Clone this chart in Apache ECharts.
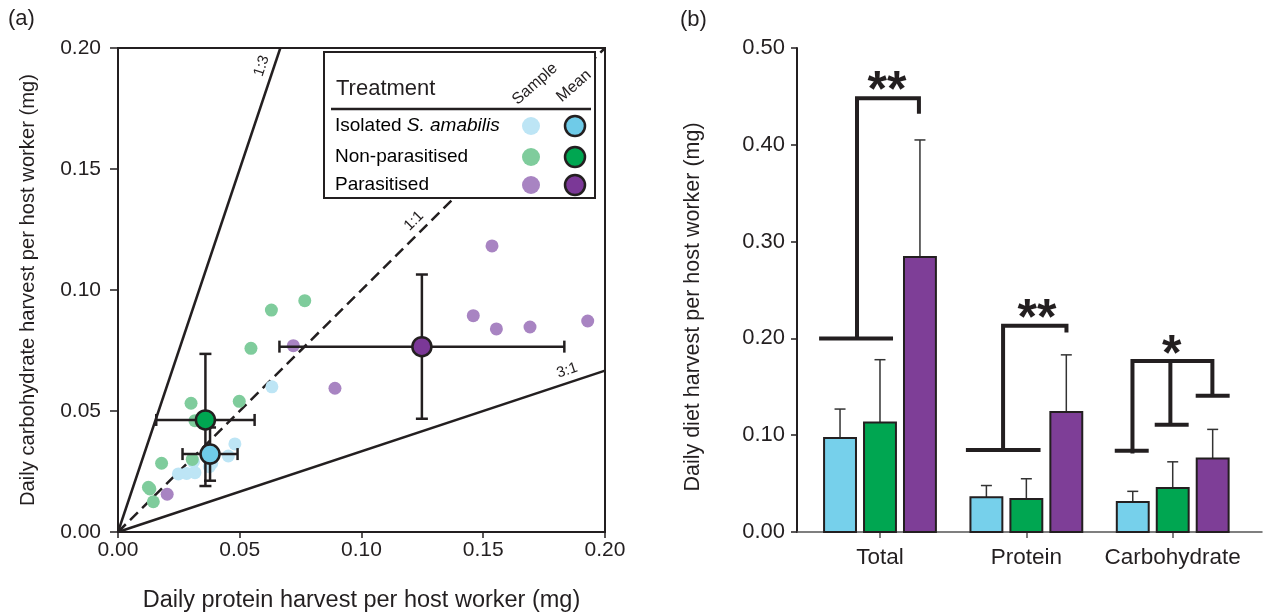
<!DOCTYPE html>
<html>
<head>
<meta charset="utf-8">
<script src="https://cdn.jsdelivr.net/npm/echarts@6/dist/echarts.min.js"></script>
<style>
html, body { margin: 0; padding: 0; background: #fff; }
#chart { width: 1269px; height: 615px; }
</style>
</head>
<body>
<div id="chart"></div>
<script>
// (a) samples: [protein, carbohydrate] in mg
const isolatedSamples = [[0.0632, 0.060], [0.048, 0.0364], [0.0453, 0.0314], [0.0385, 0.0284], [0.0316, 0.0245], [0.0282, 0.0242], [0.0248, 0.024], [0.031, 0.029], [0.0375, 0.027]]
const nonParSamples = [[0.0767, 0.0956], [0.063, 0.0917], [0.0546, 0.0759], [0.0498, 0.054], [0.030, 0.0532], [0.0316, 0.046], [0.0179, 0.0284], [0.0125, 0.0185], [0.0131, 0.0178], [0.0145, 0.0125], [0.0305, 0.030]]
const parSamples = [[0.1536, 0.1182], [0.1459, 0.0894], [0.1554, 0.0839], [0.1692, 0.0847], [0.1929, 0.0872], [0.072, 0.077], [0.0891, 0.0594], [0.0202, 0.0156]]

// (a) means with SE: [x, y, errX, errY]
const isolatedMeanPt = [0.0378, 0.0322, 0.0113, 0.011]
const nonParMeanPt = [0.0359, 0.0463, 0.0202, 0.0273]
const parMeanPt = [0.1248, 0.0766, 0.0585, 0.0298]

// reference ratio lines (carbohydrate : protein)
const ratioLabels = ['1:3', '1:1', '3:1']
const ratios = [3, 1, 1 / 3]

// (b) bars
const categories = ['Total', 'Protein', 'Carbohydrate']
const isolatedMean = [0.097, 0.036, 0.031]
const isolatedErr = [0.030, 0.012, 0.011]
const nonParMean = [0.113, 0.034, 0.0455]
const nonParErr = [0.065, 0.021, 0.027]
const parMean = [0.284, 0.124, 0.076]
const parErr = [0.121, 0.059, 0.030]

// significance brackets (x in category units, y in mg)
const bracketLines = [
  [[0.584, 0.200], [1.089, 0.200]],
  [[0.843, 0.200], [0.843, 0.448], [1.266, 0.448], [1.266, 0.432]],
  [[1.587, 0.0847], [2.097, 0.0847]],
  [[1.841, 0.0847], [1.841, 0.213], [2.274, 0.213], [2.274, 0.206]],
  [[2.604, 0.084], [2.836, 0.084]],
  [[2.725, 0.081], [2.725, 0.1767], [3.271, 0.1767], [3.271, 0.1408]],
  [[2.984, 0.1767], [2.984, 0.1109]],
  [[2.877, 0.1109], [3.109, 0.1109]],
  [[3.157, 0.1408], [3.389, 0.1408]]
]
const sigLabels = ['**', '**', '*']
const sigPositions = [[1.048, 0.4638], [2.072, 0.2283], [2.993, 0.1911]]

const ink = '#231f20'
const font = "'Liberation Sans', Arial, Helvetica, sans-serif"
const colors = {
  sample: ['#bde5f5', '#7fcc9c', '#a884c2'],
  mean: ['#6fcbe8', '#00a651', '#7b3897'],
  bar: ['#76d0eb', '#00a651', '#7e3e97']
}

const chart = echarts.init(document.getElementById('chart'))

function crossRender (params, api) {
  const x = api.value(0)
  const y = api.value(1)
  const ex = api.value(2)
  const ey = api.value(3)
  const l = api.coord([x - ex, y])
  const r = api.coord([x + ex, y])
  const t = api.coord([x, y + ey])
  const b = api.coord([x, y - ey])
  const cap = 6
  const style = { stroke: ink, lineWidth: 2.5, fill: null }
  const seg = (x1, y1, x2, y2) => ({ type: 'line', shape: { x1, y1, x2, y2 }, style })
  return {
    type: 'group',
    children: [
      seg(l[0], l[1], r[0], r[1]),
      seg(l[0], l[1] - cap, l[0], l[1] + cap),
      seg(r[0], r[1] - cap, r[0], r[1] + cap),
      seg(t[0], t[1], b[0], b[1]),
      seg(t[0] - cap, t[1], t[0] + cap, t[1]),
      seg(b[0] - cap, b[1], b[0] + cap, b[1])
    ]
  }
}

const barW = 0.218
const barOffsets = [-0.273, 0, 0.273]

function barRender (k) {
  return function (params, api) {
    const x = api.value(0) + barOffsets[k]
    const v = api.value(1)
    const e = api.value(2)
    const p0 = api.coord([x - barW / 2, v])
    const p1 = api.coord([x + barW / 2, 0])
    const mid = api.coord([x, v])
    const top = api.coord([x, v + e])
    const es = { stroke: '#333', lineWidth: 1.5 }
    return {
      type: 'group',
      children: [
        { type: 'line', shape: { x1: mid[0], y1: mid[1], x2: top[0], y2: top[1] }, style: es },
        { type: 'line', shape: { x1: top[0] - 5.5, y1: top[1], x2: top[0] + 5.5, y2: top[1] }, style: es },
        { type: 'rect', shape: { x: p0[0], y: p0[1], width: p1[0] - p0[0], height: p1[1] - p0[1] }, style: { fill: colors.bar[k], stroke: ink, lineWidth: 2 } }
      ]
    }
  }
}

function sampleSeries (data, k) {
  return {
    type: 'scatter', xAxisIndex: 0, yAxisIndex: 0, data,
    symbolSize: 13, z: 2,
    itemStyle: { color: colors.sample[k], opacity: 1 }
  }
}

function meanSeries (pt, k) {
  return [
    { type: 'custom', xAxisIndex: 0, yAxisIndex: 0, data: [pt], encode: { x: 0, y: 1 }, renderItem: crossRender, z: 3 },
    {
      type: 'scatter', xAxisIndex: 0, yAxisIndex: 0, data: [pt.slice(0, 2)],
      symbolSize: 19, z: 4,
      itemStyle: { color: colors.mean[k], borderColor: ink, borderWidth: 2.5, opacity: 1 }
    }
  ]
}

const lineSeries = ratios.map(r => ({
  type: 'line', xAxisIndex: 0, yAxisIndex: 0,
  data: [[0, 0], [Math.min(0.2, 0.2 / r), Math.min(0.2, 0.2 * r)]],
  symbol: 'none', z: 1, silent: true,
  lineStyle: { color: ink, width: 2.5, type: r === 1 ? [11, 6] : 'solid' }
}))

const labelText = { fontFamily: font, fill: ink }

chart.setOption({
  animation: false,
  textStyle: { fontFamily: font, color: ink },
  grid: [
    { left: 118, top: 48, width: 487, height: 484, show: true, borderColor: ink, borderWidth: 2, outerBoundsMode: 'none', containLabel: false },
    { left: 797, top: 48, right: 7, height: 484, outerBoundsMode: 'none', containLabel: false }
  ],
  xAxis: [
    {
      gridIndex: 0, type: 'value', min: 0, max: 0.2, interval: 0.05,
      name: 'Daily protein harvest per host worker (mg)', nameLocation: 'middle', nameGap: 57,
      nameTextStyle: { fontSize: 23.5, color: ink, fontFamily: font },
      axisLine: { lineStyle: { color: ink, width: 2 } },
      axisTick: { length: 6, lineStyle: { color: ink, width: 1.5 } },
      axisLabel: { fontSize: 21, color: ink, margin: 8, formatter: v => v.toFixed(2) },
      splitLine: { show: false }
    },
    {
      gridIndex: 1, type: 'value', min: 0.433, max: 3.61,
      axisLine: { lineStyle: { color: '#555', width: 1.5 } },
      axisTick: { length: 6, customValues: [1, 2, 3], lineStyle: { color: '#555', width: 1.5 } },
      axisLabel: { fontSize: 22.5, color: ink, margin: 14, customValues: [1, 2, 3], formatter: v => categories[Math.round(v) - 1] || '' },
      splitLine: { show: false }
    }
  ],
  yAxis: [
    {
      gridIndex: 0, type: 'value', min: 0, max: 0.2, interval: 0.05,
      name: 'Daily carbohydrate harvest per host worker (mg)', nameLocation: 'middle', nameGap: 80,
      nameTextStyle: { fontSize: 20.2, color: ink, fontFamily: font },
      axisLine: { lineStyle: { color: ink, width: 2 } },
      axisTick: { length: 8, lineStyle: { color: ink, width: 1.5 } },
      axisLabel: { fontSize: 21, color: ink, margin: 17, formatter: v => v.toFixed(2) },
      splitLine: { show: false }
    },
    {
      gridIndex: 1, type: 'value', min: 0, max: 0.5, interval: 0.1,
      axisLine: { lineStyle: { color: ink, width: 2 } },
      axisTick: { length: 6, lineStyle: { color: ink, width: 1.5 } },
      axisLabel: { fontSize: 22, color: ink, margin: 12, formatter: v => v.toFixed(2) },
      splitLine: { show: false }
    }
  ],
  series: [
    ...lineSeries,
    sampleSeries(isolatedSamples, 0),
    sampleSeries(nonParSamples, 1),
    sampleSeries(parSamples, 2),
    ...meanSeries(parMeanPt, 2),
    ...meanSeries(nonParMeanPt, 1),
    ...meanSeries(isolatedMeanPt, 0),
    { type: 'custom', xAxisIndex: 1, yAxisIndex: 1, data: isolatedMean.map((v, i) => [i + 1, v, isolatedErr[i]]), encode: { x: 0, y: 1 }, renderItem: barRender(0) },
    { type: 'custom', xAxisIndex: 1, yAxisIndex: 1, data: nonParMean.map((v, i) => [i + 1, v, nonParErr[i]]), encode: { x: 0, y: 1 }, renderItem: barRender(1) },
    { type: 'custom', xAxisIndex: 1, yAxisIndex: 1, data: parMean.map((v, i) => [i + 1, v, parErr[i]]), encode: { x: 0, y: 1 }, renderItem: barRender(2) },
    {
      type: 'custom', xAxisIndex: 1, yAxisIndex: 1,
      data: bracketLines.map(l => l[0]), encode: { x: 0, y: 1 },
      renderItem (params, api) {
        const pts = bracketLines[params.dataIndex].map(p => api.coord(p))
        return { type: 'polyline', shape: { points: pts }, style: { stroke: ink, lineWidth: 4, fill: null, lineJoin: 'miter' } }
      }
    },
    {
      type: 'custom', xAxisIndex: 1, yAxisIndex: 1,
      data: sigPositions, encode: { x: 0, y: 1 },
      renderItem (params, api) {
        const p = api.coord([api.value(0), api.value(1)])
        return {
          type: 'text', x: p[0], y: p[1] + 9,
          style: { text: sigLabels[params.dataIndex], font: 'bold 50px ' + font, fill: ink, align: 'center', verticalAlign: 'middle' }
        }
      }
    }
  ]
})

// ratio line labels and legend drawn over the scatter panel
const ratioGraphics = ratios.map((r, i) => {
  const end = [Math.min(0.2, 0.2 / r), Math.min(0.2, 0.2 * r)]
  const p0 = chart.convertToPixel({ gridIndex: 0 }, [0, 0])
  const p1 = chart.convertToPixel({ gridIndex: 0 }, end)
  const ang = Math.atan2(p0[1] - p1[1], p1[0] - p0[0])
  const frac = [0.955, 0.625, 0.93][i]
  const px = p0[0] + (p1[0] - p0[0]) * frac - Math.sin(ang) * 12
  const py = p0[1] + (p1[1] - p0[1]) * frac - Math.cos(ang) * 12
  return {
    type: 'text', x: px, y: py, rotation: ang, z: 50,
    style: { ...labelText, text: ratioLabels[i], fontSize: 15, align: 'center', verticalAlign: 'middle' }
  }
})

const rowNames = ['{n|Isolated }{i|S. amabilis}', '{n|Non-parasitised}', '{n|Parasitised}']
const rowY = [126, 157, 185]
const legendGraphics = [
  { type: 'rect', shape: { x: 324, y: 52, width: 271, height: 146 }, style: { fill: '#fff', stroke: ink, lineWidth: 2 }, z: 100 },
  { type: 'text', x: 336, y: 89, z: 101, style: { ...labelText, text: 'Treatment', fontSize: 22, verticalAlign: 'middle' } },
  { type: 'line', shape: { x1: 331, y1: 109, x2: 591, y2: 109 }, style: { stroke: ink, lineWidth: 2.5 }, z: 101 },
  { type: 'text', x: 535, y: 84, rotation: 0.72, z: 101, style: { ...labelText, text: 'Sample', fontSize: 16, align: 'center', verticalAlign: 'middle' } },
  { type: 'text', x: 574, y: 86, rotation: 0.72, z: 101, style: { ...labelText, text: 'Mean', fontSize: 16, align: 'center', verticalAlign: 'middle' } }
]
rowY.forEach((y, k) => {
  legendGraphics.push({
    type: 'text', x: 335, y, z: 101,
    style: {
      text: rowNames[k], verticalAlign: 'middle',
      rich: { n: { fontFamily: font, fontSize: 19, color: ink }, i: { fontFamily: font, fontSize: 19, fontStyle: 'italic', color: ink } }
    }
  })
  legendGraphics.push({ type: 'circle', shape: { cx: 531, cy: y, r: 9 }, style: { fill: colors.sample[k] }, z: 101 })
  legendGraphics.push({ type: 'circle', shape: { cx: 575, cy: y, r: 10 }, style: { fill: colors.mean[k], stroke: ink, lineWidth: 2.5 }, z: 101 })
})

chart.setOption({
  graphic: [
    ...ratioGraphics,
    ...legendGraphics,
    { type: 'text', x: 8, y: 19, style: { ...labelText, text: '(a)', fontSize: 22, verticalAlign: 'middle' } },
    { type: 'text', x: 680, y: 20, style: { ...labelText, text: '(b)', fontSize: 22, verticalAlign: 'middle' } },
    {
      type: 'text', x: 693, y: 307, rotation: Math.PI / 2,
      style: { ...labelText, text: 'Daily diet harvest per host worker (mg)', fontSize: 21.5, align: 'center', verticalAlign: 'middle' }
    }
  ]
})
</script>
</body>
</html>
